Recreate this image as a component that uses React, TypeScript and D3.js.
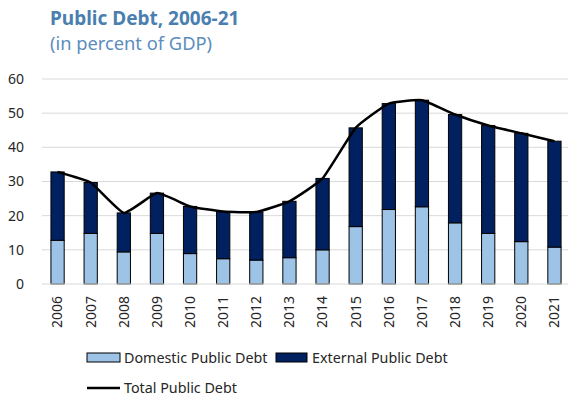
import React from "react";
import * as d3 from "d3";

const years = ["2006","2007","2008","2009","2010","2011","2012","2013","2014","2015","2016","2017","2018","2019","2020","2021"];
const domestic = [12.8,14.8,9.4,14.8,8.9,7.4,7.0,7.7,10.0,16.8,21.8,22.6,17.9,14.8,12.4,10.8];
const totalDebt = [32.8,29.7,20.8,26.6,22.7,21.2,21.1,24.2,30.9,45.7,52.8,53.8,49.6,46.4,44.1,41.8];
const yTicks = [0,10,20,30,40,50,60];

const FONT = "'Noto Sans', 'Open Sans', sans-serif";
const DOM_COLOR = "#9dc3e6";
const EXT_COLOR = "#002060";
const TEXT = "#262626";

export default function App() {
  const W = 570, H = 397;
  const x = d3.scaleBand<string>().domain(years).range([41, 571]).paddingInner(0.6).paddingOuter(0.3);
  const y = d3.scaleLinear().domain([0, 60]).range([284, 79]);
  const cx = (yr: string) => (x(yr) as number) + x.bandwidth() / 2;
  const line = d3.line<number>()
    .x((_, i) => cx(years[i]))
    .y(d => y(d))
    .curve(d3.curveCardinal.tension(0.6));

  return (
    <svg width={W} height={H} style={{ position: "absolute", left: 0, top: 0, fontFamily: FONT }}>
      <rect width={W} height={H} fill="#fff" />
      <text x={50} y={25} fill="#4a7fb0" fontWeight="bold" fontSize={19}>Public Debt, 2006-21</text>
      <text x={50} y={50} fill="#5b8dbd" fontSize={18.3}>(in percent of GDP)</text>

      {yTicks.map(t => (
        <g key={t}>
          {t > 0 && <line x1={42} x2={568} y1={y(t)} y2={y(t)} stroke="#d9d9d9" strokeWidth={1} />}
          <text x={24} y={y(t)} dy="0.35em" textAnchor="end" fontSize={14} fill={TEXT}>{t}</text>
        </g>
      ))}

      {years.map((yr, i) => (
        <g key={yr}>
          <rect x={x(yr)} y={y(domestic[i])} width={x.bandwidth()} height={y(0) - y(domestic[i])}
            fill={DOM_COLOR} stroke="#000" strokeWidth={1} />
          <rect x={x(yr)} y={y(totalDebt[i])} width={x.bandwidth()} height={y(domestic[i]) - y(totalDebt[i])}
            fill={EXT_COLOR} stroke="#000" strokeWidth={1} />
        </g>
      ))}
      <line x1={42} x2={568} y1={y(0)} y2={y(0)} stroke="#d9d9d9" strokeWidth={1} />

      <path d={line(totalDebt) || ""} fill="none" stroke="#000" strokeWidth={2.5} strokeLinejoin="round" />

      {years.map(yr => (
        <text key={yr} transform={`translate(${cx(yr)},296) rotate(-90)`} textAnchor="end" dy="0.35em"
          fontSize={14} fill={TEXT}>{yr}</text>
      ))}

      <rect x={87} y={353} width={33} height={9} fill={DOM_COLOR} stroke="#000" strokeWidth={1} />
      <text x={124} y={363} fontSize={14.3} fill={TEXT}>Domestic Public Debt</text>
      <rect x={276} y={353} width={31} height={9} fill={EXT_COLOR} stroke="#000" strokeWidth={1} />
      <text x={312} y={363} fontSize={14.3} fill={TEXT}>External Public Debt</text>
      <line x1={87} x2={120} y1={388} y2={388} stroke="#000" strokeWidth={2.5} />
      <text x={124} y={393} fontSize={14.3} fill={TEXT}>Total Public Debt</text>
    </svg>
  );
}
